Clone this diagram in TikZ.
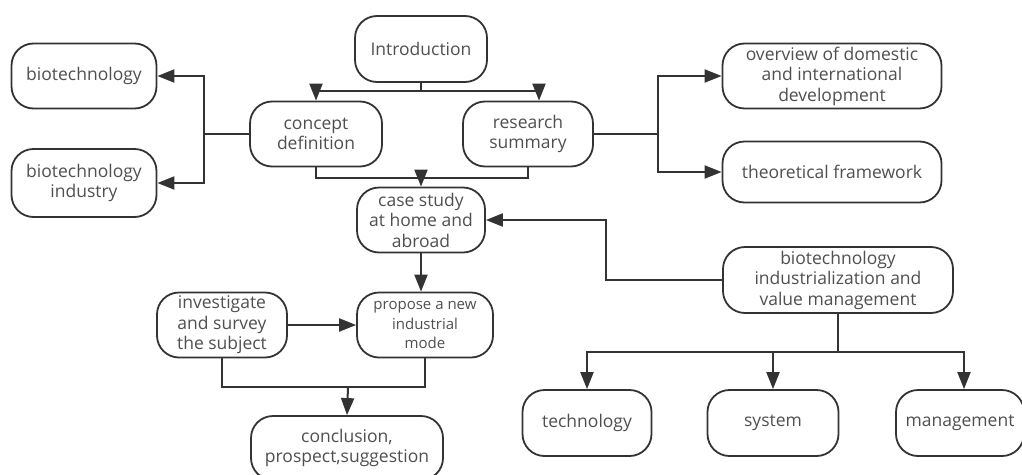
\documentclass[tikz,border=0pt]{standalone}
\usepackage{fontspec}
\setmainfont{Open Sans}
\usetikzlibrary{arrows.meta}
\definecolor{lc}{HTML}{333333}
\definecolor{tc}{HTML}{4F4F4F}
\begin{document}
\begin{tikzpicture}[x=1pt,y=-1pt,
  box/.style={draw=lc, line width=1.8pt, rounded corners=22pt, align=center,
    font=\fontsize{17.5}{20.5}\selectfont, text=tc, inner sep=0pt, minimum height=65pt},
  conn/.style={draw=lc, line width=2pt},
  arr/.style={conn, -{Triangle[length=17pt,width=13pt]}}]
\useasboundingbox (0,0) rectangle (1022,474);
% nodes
\node[box, minimum width=132pt, minimum height=66pt] (intro) at (421,49) {Introduction};
\node[box, minimum width=145pt] (bio) at (84,76) {biotechnology};
\node[box, minimum width=145pt, minimum height=68pt] (bioind) at (84,183) {biotechnology\\industry};
\node[box, minimum width=132pt] (concept) at (316,134) {concept\\definition};
\node[box, minimum width=130pt] (research) at (528,134) {research\\summary};
\node[box, minimum width=219pt] (overview) at (832,76) {overview of domestic\\and international\\development};
\node[box, minimum width=219pt, minimum height=61pt] (theory) at (832,172) {theoretical framework};
\node[box, minimum width=128pt] (case) at (421,220) {case study\\at home and\\abroad};
\node[box, minimum width=230pt, minimum height=66pt] (indus) at (838,280) {biotechnology\\industrialization and\\value management};
\node[box, minimum width=130pt] (invest) at (222,325) {investigate\\and survey\\the subject};
\node[box, minimum width=136pt, font=\fontsize{15}{19.5}\selectfont] (propose) at (425,325) {propose a new\\industrial\\mode};
\node[box, minimum width=192pt, minimum height=64pt] (concl) at (347,448) {conclusion,\\prospect,suggestion};
\node[box, minimum width=129pt, minimum height=66pt] (tech) at (587,423) {technology};
\node[box, minimum width=131pt, minimum height=66pt] (sys) at (773,423) {system};
\node[box, minimum width=128pt, minimum height=66pt] (mgmt) at (960,423) {management};
% junctions
\coordinate (j1) at (421,91);
\coordinate (j2) at (204,134);
\coordinate (j3) at (421,178);
\coordinate (j4) at (658,134);
\coordinate (j5) at (606,280);
\coordinate (j6) at (348,387);
\coordinate (j7) at (838,352);
% connectors
\draw[conn] (intro.south) -- (j1);
\draw[arr] (j1) -| (concept.north);
\draw[arr] (j1) -| ([xshift=11pt]research.north);
\draw[conn] (concept.west) -- (j2);
\draw[arr] (j2) |- (bio.east);
\draw[arr] (j2) |- (bioind.east);
\draw[conn] (concept.south) |- (j3) -| (research.south);
\draw[arr] (j3) -- (case.north);
\draw[conn] (research.east) -- (j4);
\draw[arr] (j4) |- (overview.west);
\draw[arr] (j4) |- (theory.west);
\draw[arr] (indus.west) -- (j5) |- (case.east);
\draw[arr] (case.south) -- (case.south |- propose.north);
\draw[arr] (invest.east) -- (propose.west);
\draw[conn] (invest.south) |- (j6) -| (propose.south);
\draw[arr] (j6) -- (concl.north);
\draw[conn] (indus.south) -- (j7);
\draw[arr] (j7) -| (tech.north);
\draw[arr] (j7) -| (sys.north);
\draw[arr] (j7) -| ([xshift=4pt]mgmt.north);
\end{tikzpicture}
\end{document}
